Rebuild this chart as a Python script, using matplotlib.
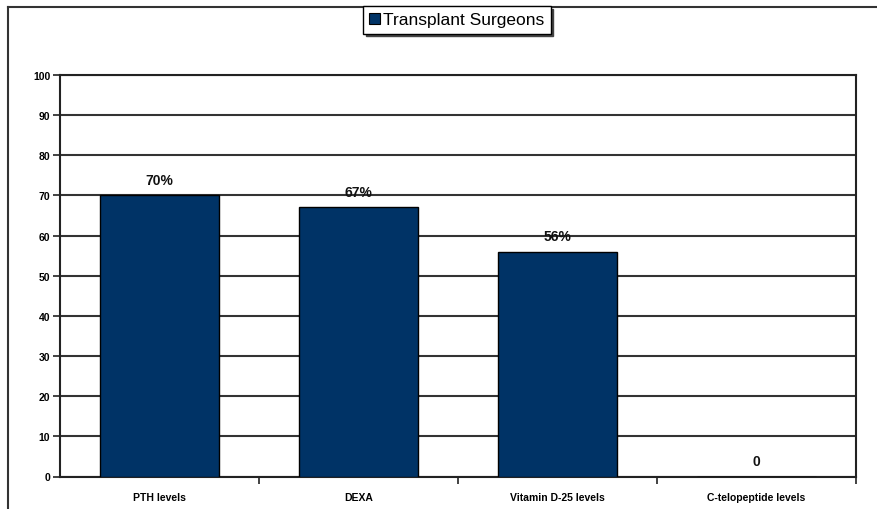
import matplotlib
matplotlib.use("Agg")
import matplotlib.pyplot as plt
from matplotlib.patches import Patch
from matplotlib.lines import Line2D

categories = ["PTH levels", "DEXA", "Vitamin D-25 levels", "C-telopeptide levels"]
values = [70, 67, 56, 0]
value_labels = ["70%", "67%", "56%", "0"]
series_name = "Transplant Surgeons"
y_ticks = [0, 10, 20, 30, 40, 50, 60, 70, 80, 90, 100]

bar_color = "#003366"
grid_color = "#333333"

plt.rcParams["font.family"] = ["Liberation Sans", "DejaVu Sans"]

fig = plt.figure(figsize=(8.78, 5.10), dpi=100)
ax = fig.add_axes([60 / 878, 1 - 477.5 / 510, (856 - 60) / 878, (477.5 - 76) / 510])

x = list(range(len(categories)))
ax.bar(x, values, width=0.6, color=bar_color, edgecolor="black", linewidth=1.0, zorder=3)

for xi, v, lab in zip(x, values, value_labels):
    ax.annotate(lab, (xi, v), xytext=(0, 6), textcoords="offset points",
                ha="center", va="bottom", fontsize=10, fontweight="bold",
                color="#111111", zorder=4)

ax.set_xlim(-0.5, len(categories) - 0.5)
ax.set_ylim(0, 100)
ax.set_yticks(y_ticks)
ax.set_yticklabels([str(t) for t in y_ticks], fontsize=7.5, fontweight="bold")
ax.yaxis.grid(True, color=grid_color, linewidth=1.5, zorder=0)
ax.set_axisbelow(True)

# category labels sit between the boundary ticks
ax.set_xticks([i + 0.5 for i in x[:-1]] + [len(categories) - 0.5])
ax.set_xticklabels([])
ax.set_xticks(x, minor=True)
ax.set_xticklabels(categories, minor=True, fontsize=7.5, fontweight="bold")
ax.tick_params(axis="x", which="minor", length=0, pad=11)
ax.tick_params(axis="x", which="major", length=5, width=1.2, color="#222222")
ax.tick_params(axis="y", length=5, width=1.2, color="#222222", pad=2)

for side in ["left", "bottom", "right", "top"]:
    ax.spines[side].set_color("#222222")
    ax.spines[side].set_linewidth(1.5)

# outer chart frame (left and top edges visible)
fig.add_artist(Line2D([8 / 878, 8 / 878], [0, 1 - 7.5 / 510], transform=fig.transFigure,
                      color="#333333", linewidth=1.5))
fig.add_artist(Line2D([8 / 878, 1], [1 - 7.5 / 510, 1 - 7.5 / 510], transform=fig.transFigure,
                      color="#333333", linewidth=1.5))

handle = Patch(facecolor=bar_color, edgecolor="black", linewidth=0.8)
leg = fig.legend([handle], [series_name], loc="center",
                 bbox_to_anchor=(457 / 878, 1 - 21 / 510),
                 fontsize=12.5, frameon=True, fancybox=False,
                 edgecolor="black", handlelength=0.6, handleheight=0.6,
                 handletextpad=0.2, borderpad=0.35,
                 shadow={"color": "#444444", "alpha": 1})
leg.get_frame().set_linewidth(1.0)

fig.savefig("out.png", dpi=100, facecolor="white")
